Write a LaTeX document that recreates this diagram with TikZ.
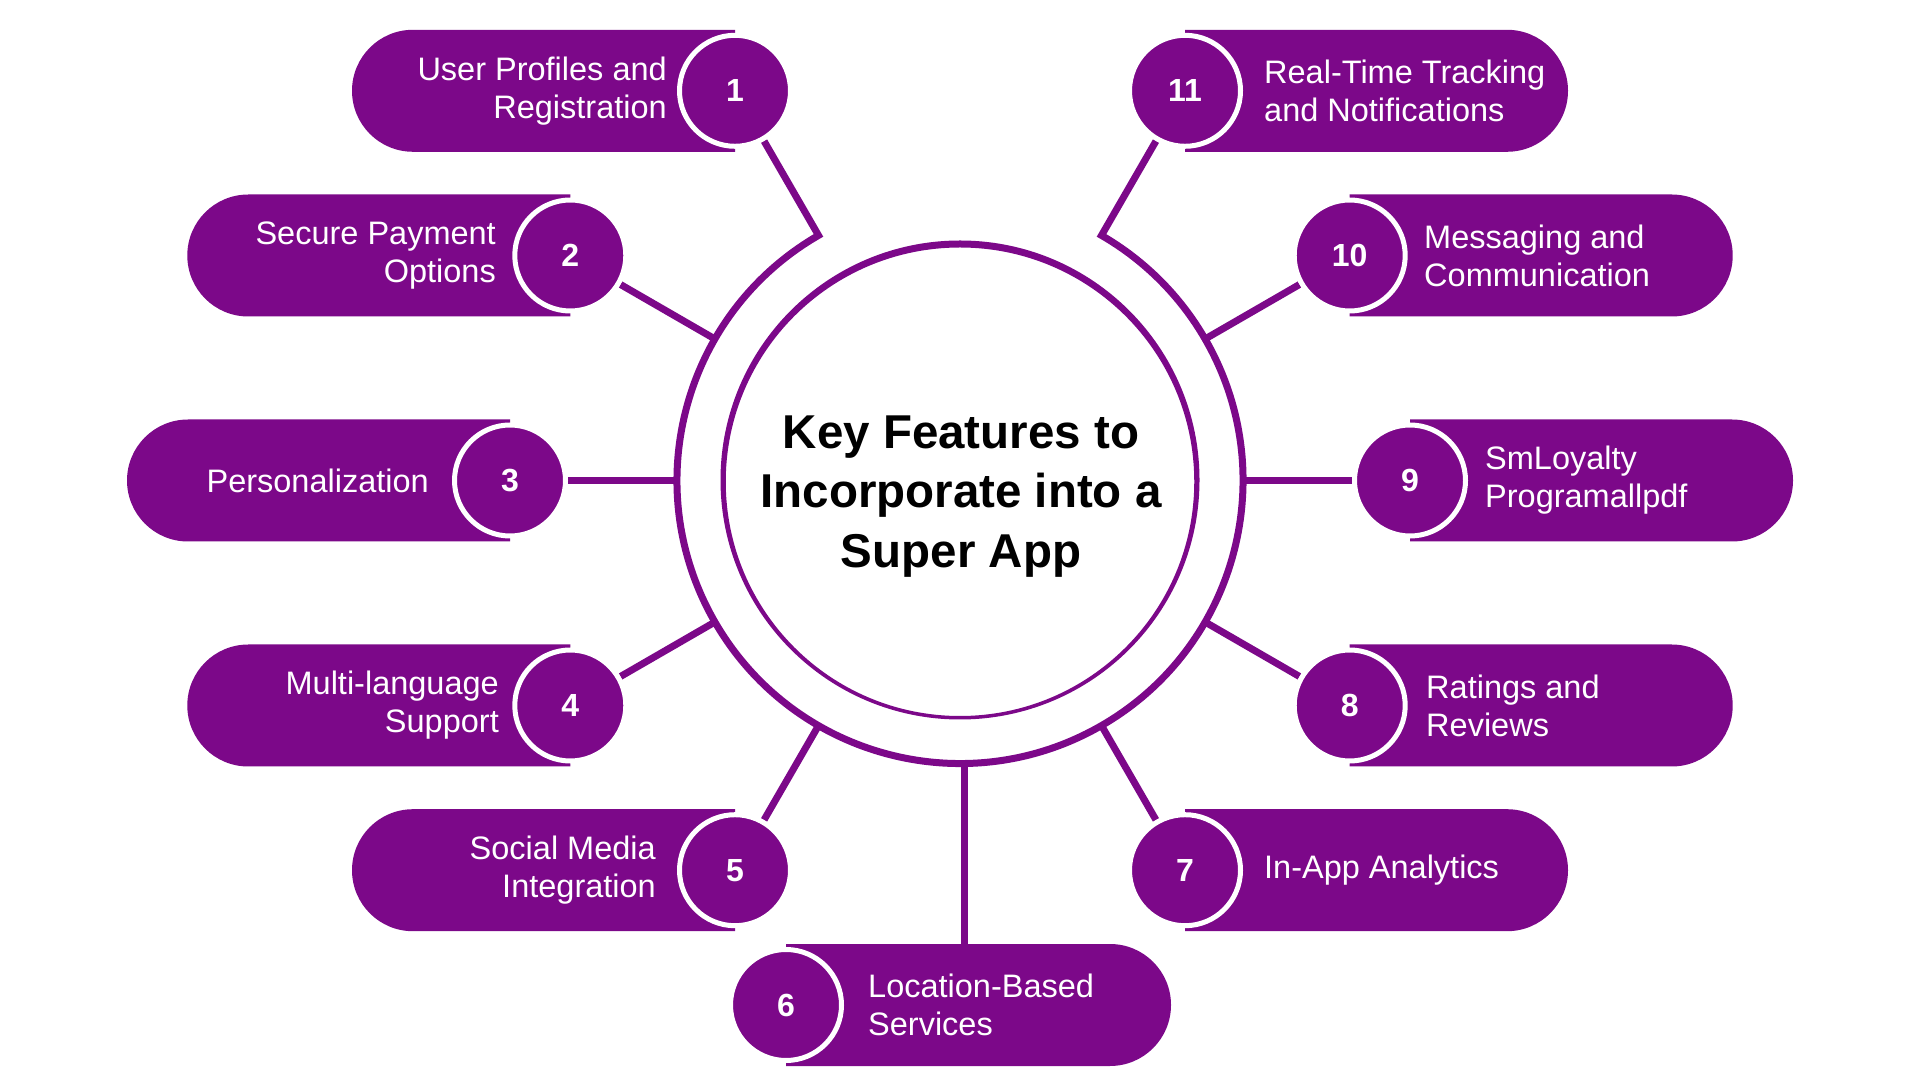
\documentclass[tikz,border=0pt]{standalone}
\usepackage{fontspec}
\setmainfont{Liberation Sans}
\usetikzlibrary{calc,shapes.misc}
\definecolor{pur}{RGB}{124,8,137}
\pgfdeclarelayer{bg}
\pgfsetlayers{bg,main}
\begin{document}
\begin{tikzpicture}[x=1pt,y=1pt,
  pillL/.style={rounded rectangle, rounded rectangle east arc=none, fill=pur, draw=none,
    minimum height=122pt, minimum width=383pt, inner sep=0pt, outer sep=0pt},
  pillR/.style={rounded rectangle, rounded rectangle west arc=none, fill=pur, draw=none,
    minimum height=122pt, minimum width=383pt, inner sep=0pt, outer sep=0pt},
  badge/.style={circle, fill=pur, draw=white, line width=5pt, minimum size=111pt,
    inner sep=0pt, text=white, font=\fontsize{32}{38}\selectfont\bfseries},
  lbl/.style={text=white, inner sep=0pt, font=\fontsize{32.5}{38}\selectfont},
  conn/.style={draw=pur, line width=7pt, line join=miter},
]
\useasboundingbox (0,0) rectangle (1920,1080);
\coordinate (C) at (960,599.5);

% inner circle (slightly thicker at the top)
\fill[pur, even odd rule] (960,600) circle[radius=239.5] (960,598.25) circle[radius=234.25];

% badge centres
\coordinate (c1) at ($(C)+(120:450)$);
\coordinate (c2) at ($(C)+(150:450)$);
\coordinate (c3) at ($(C)+(180:450)$);
\coordinate (c4) at ($(C)+(210:450)$);
\coordinate (c5) at ($(C)+(240:450)$);
\coordinate (c6) at (786,75);
\coordinate (c7) at ($(C)+(300:450)$);
\coordinate (c8) at ($(C)+(330:450)$);
\coordinate (c9) at ($(C)+(0:450)$);
\coordinate (c10) at ($(C)+(30:450)$);
\coordinate (c11) at ($(C)+(60:450)$);

% ring points
\coordinate (r1) at ($(C)+(120:283)$);
\coordinate (r2) at ($(C)+(150:283)$);
\coordinate (r3) at ($(C)+(180:283)$);
\coordinate (r4) at ($(C)+(210:283)$);
\coordinate (r5) at ($(C)+(240:283)$);
\coordinate (r6) at ($(C)+(270:283)+(4,0)$);
\coordinate (r7) at ($(C)+(300:283)$);
\coordinate (r8) at ($(C)+(330:283)$);
\coordinate (r9) at ($(C)+(0:283)$);
\coordinate (r10) at ($(C)+(30:283)$);

% pills
\node[pillL, anchor=east] (p1) at (c1) {};
\node[pillL, anchor=east] (p2) at (c2) {};
\node[pillL, anchor=east] (p3) at (c3) {};
\node[pillL, anchor=east] (p4) at (c4) {};
\node[pillL, anchor=east] (p5) at (c5) {};
\node[pillR, anchor=west, minimum width=385pt] (p6) at (c6) {};
\node[pillR, anchor=west] (p7) at (c7) {};
\node[pillR, anchor=west] (p8) at (c8) {};
\node[pillR, anchor=west] (p9) at (c9) {};
\node[pillR, anchor=west] (p10) at (c10) {};
\node[pillR, anchor=west] (p11) at (c11) {};

% badges
\node[badge] (b1) at (c1) {1};
\node[badge] (b2) at (c2) {2};
\node[badge] (b3) at (c3) {3};
\node[badge] (b4) at (c4) {4};
\node[badge] (b5) at (c5) {5};
\node[badge] (b6) at (c6) {6};
\node[badge] (b7) at (c7) {7};
\node[badge] (b8) at (c8) {8};
\node[badge] (b9) at (c9) {9};
\node[badge] (b10) at (c10) {10};
\node[badge] (b11) at (c11) {11};

% labels
\node[lbl, anchor=east, align=right] (t1) at (c1 -| 667,0) {User Profiles and\\Registration};
\node[lbl, anchor=east, align=right] (t2) at (c2 -| 496,0) {Secure Payment\\Options};
\node[lbl, anchor=east, align=right] (t3) at (c3 -| 429,0) {Personalization};
\node[lbl, anchor=east, align=right] (t4) at (c4 -| 499,0) {Multi-language\\Support};
\node[lbl, anchor=east, align=right] (t5) at (c5 -| 656,0) {Social Media\\Integration};
\node[lbl, anchor=west, align=left] (t6) at (c6 -| 868,0) {Location-Based\\Services};
\node[lbl, anchor=west, align=left] (t7) at (c7 -| 1264,0) {In-App Analytics};
\node[lbl, anchor=west, align=left] (t8) at (c8 -| 1426,0) {Ratings and\\Reviews};
\node[lbl, anchor=west, align=left] (t9) at (c9 -| 1485,0) {SmLoyalty\\Programallpdf};
\node[lbl, anchor=west, align=left] (t10) at (c10 -| 1424,0) {Messaging and\\Communication};
\node[lbl, anchor=west, align=left] (t11) at (c11 -| 1264,0) {Real-Time Tracking\\and Notifications};

% title
\node[align=center, text=black, inner sep=0pt,
  font=\fontsize{47.5}{59.5}\selectfont\bfseries] (title) at (961,583.5)
  {Key Features to\\Incorporate into a\\Super App};

% background, ring and connectors (below everything else)
\begin{pgfonlayer}{bg}
\fill[white] (0,0) rectangle (1920,1080);
\draw[conn] (b1) -- (r1) arc[start angle=120, end angle=420, radius=283] -- (b11);
\draw[conn] (r2) -- (b2);
\draw[conn] (r3) -- (b3);
\draw[conn] (r4) -- (b4);
\draw[conn] (r5) -- (b5);
\draw[conn] (r6) -- (r6 |- p6.north);
\draw[conn] (r7) -- (b7);
\draw[conn] (r8) -- (b8);
\draw[conn] (r9) -- (b9);
\draw[conn] (r10) -- (b10);
\end{pgfonlayer}
\end{tikzpicture}
\end{document}
